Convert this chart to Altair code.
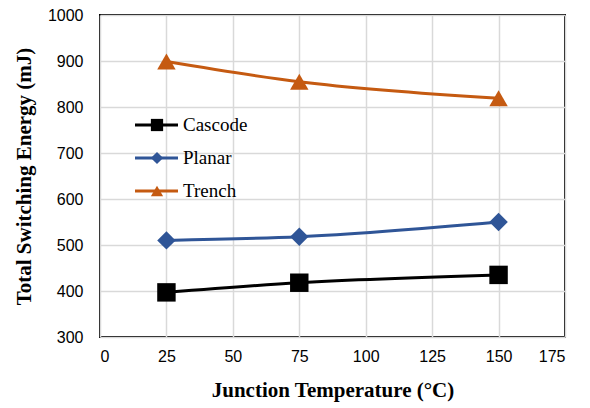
import altair as alt
import pandas as pd

temps = [25, 75, 150]
series = ["Cascode", "Planar", "Trench"]
cascode = [397, 418, 435]
planar = [510, 518, 550]
trench = [899, 855, 819]
colors = ["#000000", "#2f5597", "#c55a11"]
shapes = ["square", "diamond", "triangle-up"]

rows = []
for name, vals in zip(series, [cascode, planar, trench]):
    for t, v in zip(temps, vals):
        rows.append({"series": name, "temp": t, "energy": v})
df = pd.DataFrame(rows)
leg = pd.DataFrame({"series": series})

color = alt.Color("series:N", scale=alt.Scale(domain=series, range=colors), legend=None)
shape = alt.Shape("series:N", scale=alt.Scale(domain=series, range=shapes), legend=None)

x = alt.X("temp:Q", scale=alt.Scale(domain=[0, 175]),
          axis=alt.Axis(values=[0, 25, 50, 75, 100, 125, 150, 175], format="d",
                        title="Junction Temperature (°C)"))
y = alt.Y("energy:Q", scale=alt.Scale(domain=[300, 1000]),
          axis=alt.Axis(values=[300, 400, 500, 600, 700, 800, 900, 1000], format="d",
                        title="Total Switching Energy (mJ)"))

lines = alt.Chart(df).mark_line(strokeWidth=3, interpolate="monotone").encode(
    x=x, y=y, color=color, detail="series:N")
pts = alt.Chart(df).mark_point(filled=True, opacity=1, size=340).encode(
    x=x, y=y, color=color, shape=shape)

ly = alt.Y("series:N", scale=alt.Scale(type="point", domain=series, range=[110, 176], padding=0),
           axis=None)
leg_line = alt.Chart(leg).mark_rule(strokeWidth=3).encode(
    x=alt.value(35), x2=alt.value(78), y=ly, color=color)
leg_pt = alt.Chart(leg).mark_point(filled=True, opacity=1, size=150).encode(
    x=alt.value(57), y=ly, color=color, shape=shape)
leg_txt = alt.Chart(leg).mark_text(align="left", baseline="middle", font="Liberation Serif",
                                   fontSize=19, color="#000000").encode(
    x=alt.value(83), y=ly, text="series:N")

main = alt.layer(lines, pts)
legend = alt.layer(leg_line, leg_pt, leg_txt)

chart = alt.layer(main, legend).resolve_scale(y="independent").properties(
    width=465, height=322,
    background="#ffffff",
    autosize=alt.AutoSizeParams(type="none"),
    padding={"left": 100, "top": 15, "right": 25, "bottom": 71},
).configure_view(stroke="#000000", strokeWidth=2).configure_axis(
    grid=True, gridColor="#d9d9d9", gridWidth=1.5, domain=False, ticks=False,
    labelFont="Liberation Sans", labelFontSize=16, labelColor="#000000",
    titleFont="Liberation Serif", titleFontSize=21, titleFontWeight="bold",
    titleColor="#000000",
).configure_axisX(labelPadding=11, titlePadding=15).configure_axisY(
    labelPadding=17, titlePadding=13)

chart.save("out.html", embed_options={"renderer": "svg", "actions": False})
